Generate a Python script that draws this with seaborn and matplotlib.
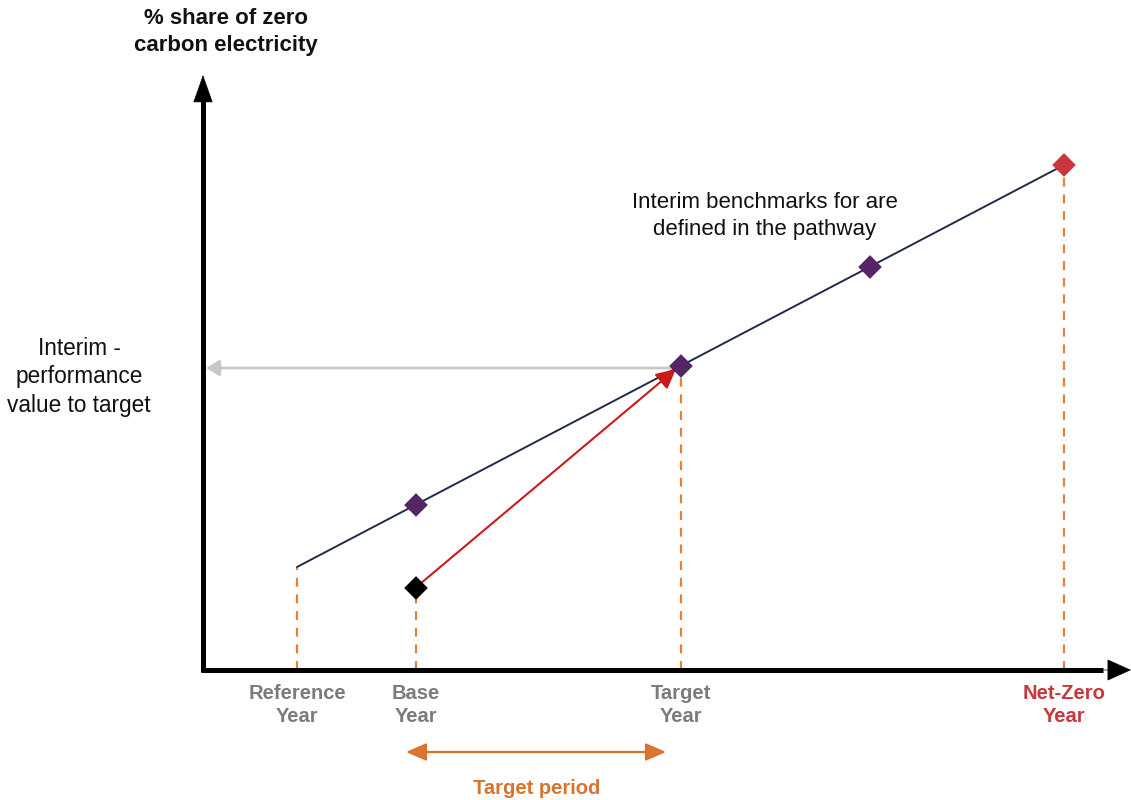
import numpy as np
import pandas as pd
import seaborn as sns
import matplotlib.pyplot as plt

# conceptual units: x = time, y = % share (arbitrary scale)
path_x = [0.94, 8.61]
path_y = [1.03, 5.05]
bench_x = [2.13, 4.78, 6.67]
bench_y = [1.65, 3.04, 4.03]
base_x, base_y = 2.13, 0.82
netzero_x, netzero_y = 8.61, 5.05
ref_x, ref_y = 0.94, 1.03

tick_x = [0.94, 2.13, 4.78, 8.61]
tick_labels = ['Reference\nYear', 'Base\nYear', 'Target\nYear', 'Net-Zero\nYear']
tick_colors = ['#7b7b7b', '#7b7b7b', '#7b7b7b', '#c9373c']
drop_x = [0.94, 2.13, 4.78, 8.61]
drop_y = [1.03, 0.82, 3.04, 5.05]

sns.set_style('white')
plt.rcParams['font.family'] = ['Liberation Sans', 'DejaVu Sans']
plt.rcParams['text.color'] = '#111111'

fig = plt.figure(figsize=(11.31, 8), dpi=100)
ax = fig.add_axes([0, 0, 1, 1])
ax.set_xlim(-2.03, 9.28)
ax.set_ylim(-1.30, 6.70)
ax.axis('off')

navy = '#1f2b47'
purple = '#552566'
orange = '#e0823f'
red = '#cc1a1a'

# dashed drop lines
for x, y in zip(drop_x, drop_y):
    ax.plot([x, x], [0, y - 0.08 if x != ref_x else y], color=orange, lw=1.6,
            ls=(0, (4, 3.5)), zorder=1)

# pathway
df = pd.DataFrame({'x': path_x, 'y': path_y})
sns.lineplot(data=df, x='x', y='y', color=navy, lw=1.4, ax=ax, zorder=2)

# interim benchmarks
bdf = pd.DataFrame({'x': bench_x, 'y': bench_y})
sns.scatterplot(data=bdf, x='x', y='y', marker='D', s=145, color=purple,
                edgecolor='none', ax=ax, zorder=4)
sns.scatterplot(x=[netzero_x], y=[netzero_y], marker='D', s=145, color='#c9373c',
                edgecolor='none', ax=ax, zorder=4)
sns.scatterplot(x=[base_x], y=[base_y], marker='D', s=145, color='black',
                edgecolor='none', ax=ax, zorder=4)

# red arrow base -> target
ax.annotate('', xy=(bench_x[1] - 0.05, bench_y[1] - 0.03), xytext=(base_x + 0.04, base_y + 0.04),
            arrowprops=dict(arrowstyle='-|>,head_length=0.5,head_width=0.25', color=red,
                            lw=1.5, mutation_scale=24, shrinkA=0, shrinkB=0), zorder=3)

# gray arrow to y axis
ax.annotate('', xy=(0.03, 3.02), xytext=(bench_x[1], 3.02),
            arrowprops=dict(arrowstyle='-|>,head_length=0.5,head_width=0.3', color='#c8c8c8',
                            lw=2, mutation_scale=16, shrinkA=0, shrinkB=0), zorder=1)

# axes: thick lines + solid heads
ax.plot([0, 0], [-0.02, 5.7], color='black', lw=3.6, solid_capstyle='butt', zorder=5)
ax.plot([-0.02, 9.0], [0, 0], color='black', lw=3.6, solid_capstyle='butt', zorder=5)
ax.annotate('', xy=(0, 5.95), xytext=(0, 5.6),
            arrowprops=dict(arrowstyle='-|>,head_length=0.93,head_width=0.33', color='black',
                            lw=0.5, mutation_scale=20, shrinkA=0, shrinkB=0), zorder=5)
ax.annotate('', xy=(9.28, 0), xytext=(8.9, 0),
            arrowprops=dict(arrowstyle='-|>,head_length=0.8,head_width=0.36', color='black',
                            lw=0.5, mutation_scale=20, shrinkA=0, shrinkB=0), zorder=5)

# target period arrow
ax.annotate('', xy=(2.03, -0.82), xytext=(4.63, -0.82),
            arrowprops=dict(arrowstyle='<|-|>,head_length=0.62,head_width=0.27', color='#d8742d',
                            lw=1.6, mutation_scale=20, shrinkA=0, shrinkB=0))
ax.text(3.34, -1.18, 'Target period', ha='center', va='center', fontsize=14.5,
        fontweight='bold', color='#d8742d')

# x labels
for x, lab, c in zip(tick_x, tick_labels, tick_colors):
    ax.text(x, -0.14, lab, ha='center', va='top', fontsize=14.5, fontweight='bold',
            color=c, linespacing=1.28)

# texts
ax.text(0.23, 6.38, '% share of zero\ncarbon electricity', ha='center', va='center',
        fontsize=16, fontweight='bold', linespacing=1.35)
ax.text(5.62, 4.54, 'Interim benchmarks for are\ndefined in the pathway', ha='center',
        va='center', fontsize=16, linespacing=1.32)
ax.text(-1.24, 2.93, 'Interim -\nperformance\nvalue to target', ha='center',
        va='center', fontsize=16.3, linespacing=1.3)

fig.savefig('out.png', dpi=100)
